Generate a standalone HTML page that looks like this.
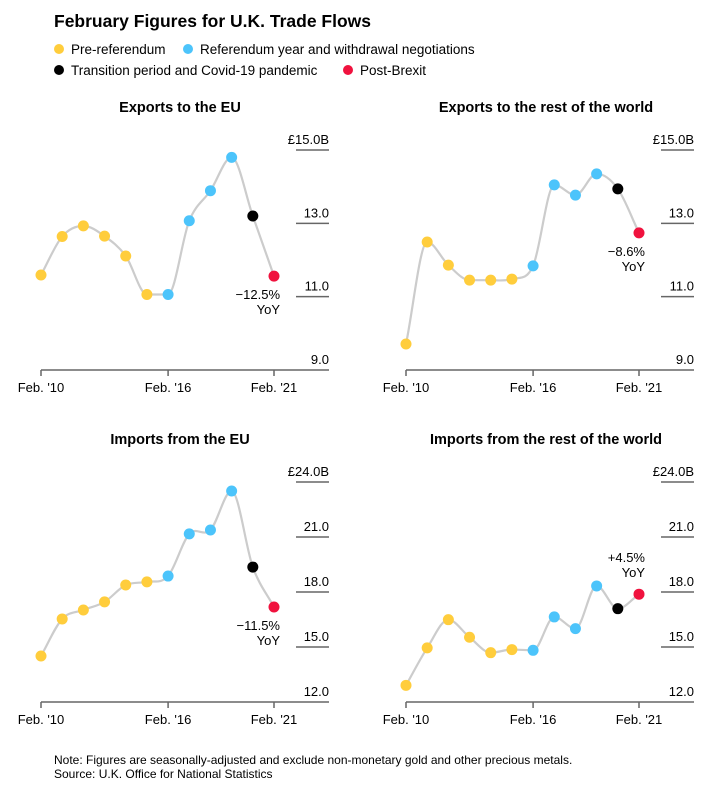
<!DOCTYPE html>
<html><head><meta charset="utf-8">
<style>
body{margin:0;background:#fff;font-family:"Liberation Sans",Arial,sans-serif;color:#000}
svg text{font-family:"Liberation Sans",Arial,sans-serif}
</style></head>
<body>
<svg id="chart" width="727" height="790" viewBox="0 0 727 790" xmlns="http://www.w3.org/2000/svg">
<text x="54" y="27" font-size="17.5" font-weight="bold">February Figures for U.K. Trade Flows</text>
<g>
<circle cx="59" cy="49" r="5" fill="#ffcd3c"/>
<text x="71" y="54" font-size="13.5">Pre-referendum</text>
<circle cx="188" cy="49" r="5" fill="#4cc4fb"/>
<text x="200" y="54" font-size="13.5">Referendum year and withdrawal negotiations</text>
<circle cx="59" cy="70" r="5" fill="#000"/>
<text x="71" y="75" font-size="13.5">Transition period and Covid-19 pandemic</text>
<circle cx="348" cy="70" r="5" fill="#f0123e"/>
<text x="360" y="75" font-size="13.5">Post-Brexit</text>
</g>
<g id="panels"></g>
<text x="54" y="764" font-size="12">Note: Figures are seasonally-adjusted and exclude non-monetary gold and other precious metals.</text>
<text x="54" y="778" font-size="12">Source: U.K. Office for National Statistics</text>
</svg>
<script>
const years = [2010,2011,2012,2013,2014,2015,2016,2017,2018,2019,2020,2021];
const phases = ["pre","pre","pre","pre","pre","pre","ref","ref","ref","ref","trans","post"];
const exportsEU = [11.59,12.64,12.93,12.65,12.11,11.06,11.06,13.07,13.89,14.80,13.20,11.56];
const exportsRoW = [9.71,12.49,11.86,11.45,11.45,11.48,11.84,14.05,13.77,14.35,13.94,12.74];
const importsEU = [14.51,16.53,17.02,17.46,18.38,18.55,18.87,21.17,21.38,23.51,19.36,17.18];
const importsRoW = [12.91,14.95,16.49,15.53,14.69,14.86,14.82,16.64,16.00,18.33,17.09,17.88];
const exportTicks = [9,11,13,15];
const importTicks = [12,15,18,21,24];
const xTickYears = [2010,2016,2021];
const xTickLabels = ["Feb. '10","Feb. '16","Feb. '21"];
const colors = {pre:"#ffcd3c",ref:"#4cc4fb",trans:"#000",post:"#f0123e"};
const NS="http://www.w3.org/2000/svg";
const root=document.getElementById('panels');
function mk(tag,attrs,parent,txt){const e=document.createElementNS(NS,tag);for(const k in attrs)e.setAttribute(k,attrs[k]);if(txt!==undefined)e.textContent=txt;parent.appendChild(e);return e;}

const panels=[
 {name:'exports-eu',title:'Exports to the EU',vals:exportsEU,ticks:exportTicks,ox:0,top:150,bottom:370,tcx:180,ty:112,ann:['\u221212.5%','YoY'],annPos:'below'},
 {name:'exports-row',title:'Exports to the rest of the world',vals:exportsRoW,ticks:exportTicks,ox:365,top:150,bottom:370,tcx:546,ty:112,ann:['\u22128.6%','YoY'],annPos:'below'},
 {name:'imports-eu',title:'Imports from the EU',vals:importsEU,ticks:importTicks,ox:0,top:482,bottom:702,tcx:180,ty:444,ann:['\u221211.5%','YoY'],annPos:'below'},
 {name:'imports-row',title:'Imports from the rest of the world',vals:importsRoW,ticks:importTicks,ox:365,top:482,bottom:702,tcx:546,ty:444,ann:['+4.5%','YoY'],annPos:'above'}
];
panels.forEach(p=>{
 const g=mk('g',{},root);
 
 
 const x0=41+p.ox, x1=274+p.ox;
 const tmin=p.ticks[0], tmax=p.ticks[p.ticks.length-1];
 const xs=y=>x0+(y-years[0])/(years[years.length-1]-years[0])*(x1-x0);
 const ys=v=>p.bottom-(v-tmin)/(tmax-tmin)*(p.bottom-p.top);
 const t=mk('text',{x:p.tcx,y:p.ty,'font-size':14.5,'font-weight':'bold','text-anchor':'middle'},g,p.title);
 
 
 const gx0=296+p.ox, gx1=329+p.ox;
 p.ticks.forEach((v,i)=>{
  const y=ys(v);
  if(i>0){const l=mk('line',{x1:gx0,x2:gx1,y1:y,y2:y,stroke:'#666','stroke-width':1.5},g);
   
   }
  const lab=(i===p.ticks.length-1)?'\u00a3'+v.toFixed(1)+'B':v.toFixed(1);
  const tx=mk('text',{x:gx1+(i===p.ticks.length-1?0:0),y:y-6,'font-size':13,'text-anchor':'end'},g,lab);
  
  
 });
 const base=mk('line',{x1:x0,x2:gx1,y1:p.bottom,y2:p.bottom,stroke:'#666','stroke-width':1.5},g);
 
 
 xTickYears.forEach((yr,i)=>{
  const x=xs(yr);
  const tk=mk('line',{x1:x,x2:x,y1:p.bottom,y2:p.bottom+6,stroke:'#666','stroke-width':1.5},g);
  
  
  const tl=mk('text',{x:x,y:p.bottom+22,'font-size':13,'text-anchor':'middle'},g,xTickLabels[i]);
  
  
 });
 const pts=p.vals.map((v,i)=>[xs(years[i]),ys(v)]);
 // monotone cubic
 const n=pts.length, d=[], m=[];
 for(let i=0;i<n-1;i++)d.push((pts[i+1][1]-pts[i][1])/(pts[i+1][0]-pts[i][0]));
 for(let i=0;i<n;i++){
  if(i===0)m.push(d[0]);else if(i===n-1)m.push(d[n-2]);
  else m.push(d[i-1]*d[i]<=0?0:(d[i-1]+d[i])/2);
 }
 let path='M'+pts[0][0]+','+pts[0][1];
 for(let i=0;i<n-1;i++){
  const h=(pts[i+1][0]-pts[i][0])/3;
  path+=' C'+(pts[i][0]+h)+','+(pts[i][1]+m[i]*h)+' '+(pts[i+1][0]-h)+','+(pts[i+1][1]-m[i+1]*h)+' '+pts[i+1][0]+','+pts[i+1][1];
 }
 const ln=mk('path',{d:path,fill:'none',stroke:'#cccccc','stroke-width':2.2},g);
 
 
 pts.forEach((pt,i)=>{
  const c=mk('circle',{cx:pt[0],cy:pt[1],r:5.5,fill:colors[phases[i]]},g);
  
  
 });
 const last=pts[n-1];
 const ax=last[0]+6;
 const a1y=p.annPos==='below'?last[1]+23:last[1]-32;
 const a1=mk('text',{x:ax,y:a1y,'font-size':13,'text-anchor':'end'},g,p.ann[0]);
 
 
 const a2=mk('text',{x:ax,y:a1y+15,'font-size':13,'text-anchor':'end'},g,p.ann[1]);
 
 
});
</script>
</body></html>
